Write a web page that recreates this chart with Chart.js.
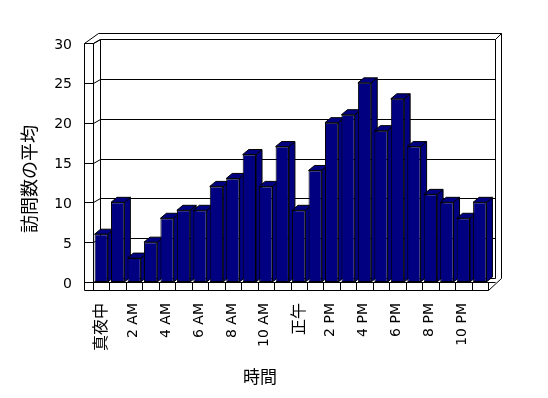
<!DOCTYPE html>
<html>
<head>
<meta charset="utf-8">
<script src="https://cdn.jsdelivr.net/npm/chart.js@4.4.1/dist/chart.umd.min.js"></script>
<style>
  body { margin: 0; background: #fff; }
</style>
</head>
<body>
<canvas id="visits" width="548" height="398"></canvas>
<script>
const hourLabels = ["真夜中", "1 AM", "2 AM", "3 AM", "4 AM", "5 AM", "6 AM", "7 AM", "8 AM", "9 AM", "10 AM", "11 AM",
  "正午", "1 PM", "2 PM", "3 PM", "4 PM", "5 PM", "6 PM", "7 PM", "8 PM", "9 PM", "10 PM", "11 PM"];
const avgVisits = [6, 10, 3, 5, 8, 9, 9, 12, 13, 16, 12, 17, 9, 14, 20, 21, 25, 19, 23, 17, 11, 10, 8, 10];
const yTicks = [0, 5, 10, 15, 20, 25, 30];
const yTitle = "訪問数の平均";
const xTitle = "時間";

const NAVY = "#000080";
// depth of the back wall and of the bars (oblique 3D look)
const WALL_DX = 7, WALL_DY = -4, WALL_T = 6;
const BAR_DX = 6, BAR_DY = -5;
const LEFT_W = 9, FLOOR_H = 8;

const line = (ctx, pts) => {
  ctx.beginPath();
  ctx.moveTo(pts[0][0], pts[0][1]);
  for (let i = 1; i < pts.length; i++) ctx.lineTo(pts[i][0], pts[i][1]);
  ctx.stroke();
};
const poly = (ctx, pts) => {
  ctx.beginPath();
  ctx.moveTo(pts[0][0], pts[0][1]);
  for (let i = 1; i < pts.length; i++) ctx.lineTo(pts[i][0], pts[i][1]);
  ctx.closePath();
  ctx.fill();
  ctx.stroke();
};

const box3d = {
  id: "box3d",
  beforeDatasetsDraw(chart) {
    const ctx = chart.ctx;
    const { left: L, right: R, top: T, bottom: B } = chart.chartArea;
    const y = chart.scales.y, x = chart.scales.x;
    ctx.save();
    ctx.strokeStyle = "#000";
    ctx.lineWidth = 1;
    ctx.translate(0.5, 0.5);

    // back wall: gridlines and edges
    yTicks.forEach((v) => {
      const yf = Math.round(y.getPixelForValue(v));
      const yb = yf + WALL_DY;
      line(ctx, [[L - LEFT_W, yf], [L, yf], [L + WALL_DX, yb], [R + WALL_DX, yb]]);
    });
    line(ctx, [[R + WALL_DX, T + WALL_DY], [R + WALL_DX, B + WALL_DY]]);
    line(ctx, [[L + WALL_DX, T + WALL_DY], [L + WALL_DX, B + WALL_DY]]);
    line(ctx, [[L - LEFT_W, T], [L + WALL_DX - 2, T + WALL_DY - WALL_T], [R + WALL_DX + WALL_T, T + WALL_DY - WALL_T],
      [R + WALL_DX + WALL_T, B + WALL_DY], [R, B + FLOOR_H]]);
    line(ctx, [[R + WALL_DX, T + WALL_DY], [R + WALL_DX + WALL_T, T + WALL_DY - WALL_T]]);

    // left wall
    line(ctx, [[L - LEFT_W, T], [L - LEFT_W, B + FLOOR_H], [R, B + FLOOR_H]]);
    line(ctx, [[L + WALL_DX, T + WALL_DY], [L, T], [L, B]]);
    line(ctx, [[L - LEFT_W, T], [L, T]]);

    // floor strip with category cells
    line(ctx, [[L, B], [R + WALL_DX, B]]);
    const catW = (R - L) / hourLabels.length;
    hourLabels.forEach((lab, i) => {
      const cx = Math.round(x.getPixelForValue(i) - catW / 2);
      line(ctx, [[cx, B], [cx, B + FLOOR_H]]);
    });
    line(ctx, [[R, B], [R, B + FLOOR_H]]);
    ctx.restore();

    // bar tops and right sides
    ctx.save();
    ctx.fillStyle = NAVY;
    ctx.strokeStyle = "#000";
    ctx.lineWidth = 1;
    chart.getDatasetMeta(0).data.forEach((bar) => {
      const p = bar.getProps(["x", "y", "base", "width"], true);
      const x0 = p.x - p.width / 2, x1 = p.x + p.width / 2;
      poly(ctx, [[x1, p.y], [x1 + BAR_DX, p.y + BAR_DY], [x1 + BAR_DX, p.base + BAR_DY], [x1, p.base]]);
      poly(ctx, [[x0, p.y], [x0 + BAR_DX, p.y + BAR_DY], [x1 + BAR_DX, p.y + BAR_DY], [x1, p.y]]);
    });
    ctx.restore();
  },
  afterDraw(chart) {
    const ctx = chart.ctx;
    ctx.save();
    ctx.fillStyle = "#000";
    ctx.textAlign = "center";
    ctx.textBaseline = "middle";
    ctx.font = '18px "Noto Sans CJK JP"';
    ctx.translate(29, 179);
    ctx.rotate(-Math.PI / 2);
    ctx.fillText(yTitle, 0, 0);
    ctx.restore();
    ctx.save();
    ctx.fillStyle = "#000";
    ctx.textAlign = "center";
    ctx.textBaseline = "middle";
    ctx.font = '17px "Noto Sans CJK JP"';
    ctx.fillText(xTitle, 260, 377);
    ctx.restore();
  },
};

const isCJK = (s) => /[^\x00-\x7f]/.test(s);

new Chart(document.getElementById("visits"), {
  type: "bar",
  data: {
    labels: hourLabels,
    datasets: [
      {
        data: avgVisits,
        backgroundColor: NAVY,
        borderColor: "#000",
        borderWidth: 1,
        borderSkipped: false,
        barPercentage: 0.81,
        categoryPercentage: 1,
      },
    ],
  },
  options: {
    responsive: false,
    animation: false,
    layout: { padding: { left: 0, top: 43, right: 60, bottom: 0 } },
    plugins: { legend: { display: false }, tooltip: { enabled: false } },
    scales: {
      x: {
        grid: { display: false, drawTicks: false },
        border: { display: false },
        afterFit: (s) => { s.height = 116; },
        ticks: {
          autoSkip: false,
          maxRotation: 90,
          minRotation: 90,
          padding: 21,
          labelOffset: -1,
          color: "#000",
          font: (c) => ({
            family: isCJK(hourLabels[c.index] || "") ? "Noto Sans CJK JP" : "DejaVu Sans",
            size: isCJK(hourLabels[c.index] || "") ? 16 : 14,
          }),
          callback: (v, i) => (i % 2 === 0 ? hourLabels[i] : ""),
        },
      },
      y: {
        min: 0,
        max: 30,
        grid: { display: false, drawTicks: false },
        border: { display: false },
        afterFit: (s) => { s.width = 93; },
        afterBuildTicks: (s) => { s.ticks = yTicks.map((v) => ({ value: v })); },
        ticks: {
          padding: 21,
          labelOffset: 2,
          color: "#000",
          font: { family: "DejaVu Sans", size: 14 },
        },
      },
    },
  },
  plugins: [box3d],
});
</script>
</body>
</html>
